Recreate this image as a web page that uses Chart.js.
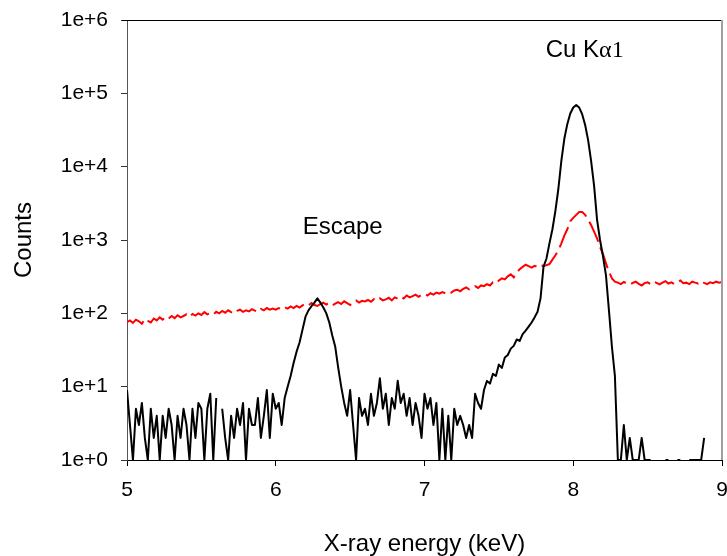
<!DOCTYPE html>
<html><head><meta charset="utf-8">
<script src="https://cdn.jsdelivr.net/npm/chart.js@4.4.1/dist/chart.umd.min.js"></script>
<style>html,body{margin:0;padding:0;background:#fff;} canvas{display:block;}</style>
</head><body>
<canvas id="c" width="727" height="556"></canvas>
<script>
// X-ray energy grid (keV)
const energy = [
5.00,5.02,5.04,5.06,5.08,5.10,5.12,5.14,5.16,5.18,
5.20,5.22,5.24,5.26,5.28,5.30,5.32,5.34,5.36,5.38,
5.40,5.42,5.44,5.46,5.48,5.50,5.52,5.54,5.56,5.58,
5.60,5.62,5.64,5.66,5.68,5.70,5.72,5.74,5.76,5.78,
5.80,5.82,5.84,5.86,5.88,5.90,5.92,5.94,5.96,5.98,
6.00,6.02,6.04,6.06,6.08,6.10,6.12,6.14,6.16,6.18,
6.20,6.22,6.24,6.26,6.28,6.30,6.32,6.34,6.36,6.38,
6.40,6.42,6.44,6.46,6.48,6.50,6.52,6.54,6.56,6.58,
6.60,6.62,6.64,6.66,6.68,6.70,6.72,6.74,6.76,6.78,
6.80,6.82,6.84,6.86,6.88,6.90,6.92,6.94,6.96,6.98,
7.00,7.02,7.04,7.06,7.08,7.10,7.12,7.14,7.16,7.18,
7.20,7.22,7.24,7.26,7.28,7.30,7.32,7.34,7.36,7.38,
7.40,7.42,7.44,7.46,7.48,7.50,7.52,7.54,7.56,7.58,
7.60,7.62,7.64,7.66,7.68,7.70,7.72,7.74,7.76,7.78,
7.80,7.82,7.84,7.86,7.88,7.90,7.92,7.94,7.96,7.98,
8.00,8.02,8.04,8.06,8.08,8.10,8.12,8.14,8.16,8.18,
8.20,8.22,8.24,8.26,8.28,8.30,8.32,8.34,8.36,8.38,
8.40,8.42,8.44,8.46,8.48,8.50,8.52,8.54,8.56,8.58,
8.60,8.62,8.64,8.66,8.68,8.70,8.72,8.74,8.76,8.78,
8.80,8.82,8.84,8.86,8.88,8.90,8.92,8.94,8.96,8.98,
9.00];

// Measured spectrum (black); null = zero counts
const spectrumCounts = [
9,3,1,5,3,6,2,1,5,2,
4,1,4,2,5,3,1,4,2,5,
3,1,5,2,6,5,1,5,8,1,
7,null,5,2,1,4,2,5,3,6,
1,5,3,3,7,2,4,9,2,8,
5,6,3,7,10,14,21,30,40,60,
90,110,125,140,160,140,120,100,75,50,
35,18,10,6,4,9,3,1,7,4,
5,3,8,4,6,13,5,8,3,7,
5,12,6,8,4,7,3,6,4,2,
8,5,7,3,6,1,5,1,4,1,
5,3,4,3,2,3,2,8,6,5,
9,12,11,15,14,20,18,25,27,33,
36,44,42,52,58,66,75,88,105,160,
430,560,900,1400,2500,5000,12000,24000,38000,53000,
64000,69000,64000,52000,37000,23000,12000,5500,1900,1000,
600,330,110,35,14,1,1,3,1,2,
1,1,1,2,1,1,1,null,null,null,
null,1,1,null,null,1,1,null,null,1,
1,1,1,1,2,null,null,null,null,null,
null];

// Background / second spectrum (red dashed)
const backgroundCounts = [
76,80,74,82,78,72,84,79,75,85,
80,88,82,90,85,92,86,94,88,92,
97,90,98,93,100,95,104,97,101,96,
105,100,108,102,110,104,99,108,112,105,
110,106,114,109,104,115,110,118,112,116,
112,118,113,121,116,124,118,126,120,128,
135,128,138,130,126,134,140,132,138,128,
136,142,134,146,138,130,144,150,140,148,
145,152,144,156,148,160,150,155,163,150,
165,158,170,160,175,165,172,180,168,178,
185,175,188,180,192,185,195,188,200,192,
205,210,200,215,225,212,228,235,222,240,
235,250,240,265,255,280,300,290,320,340,
310,360,400,430,460,440,420,445,430,460,
440,455,470,540,620,720,900,1150,1400,1800,
2000,2200,2400,2400,2200,1900,1600,1300,1050,800,
640,480,370,300,270,262,250,268,255,245,
260,270,252,240,258,265,250,272,260,248,
262,275,255,265,250,268,280,258,262,250,
270,262,255,275,260,250,265,258,270,262,
268];

const xTickValues = [5,6,7,8,9];
const xTickLabels = ['5','6','7','8','9'];
const yTickValues = [1,10,100,1000,10000,100000,1000000];
const yTickLabels = ['1e+0','1e+1','1e+2','1e+3','1e+4','1e+5','1e+6'];
const xTitle = 'X-ray energy (keV)';
const yTitle = 'Counts';

const SANS = '"Liberation Sans", Arial, Helvetica, sans-serif';
const SERIF = '"Liberation Serif", "Times New Roman", serif';

const toXY = (vals) => energy.map((e, i) => ({x: e, y: vals[i]}));

const framePlugin = {
  id: 'frame',
  afterDatasetsDraw(chart) {
    const {ctx, chartArea: a} = chart;
    ctx.save();
    ctx.lineWidth = 1;
    ctx.strokeStyle = '#000';
    ctx.beginPath();
    ctx.moveTo(a.left - 5, Math.round(a.top) + 0.5);
    ctx.lineTo(a.right, Math.round(a.top) + 0.5);
    ctx.stroke();
    ctx.strokeStyle = '#a0a0a0';
    ctx.lineWidth = 2;
    ctx.beginPath();
    ctx.moveTo(Math.round(a.right), a.top);
    ctx.lineTo(Math.round(a.right), a.bottom);
    ctx.stroke();
    ctx.restore();
  }
};

const labelPlugin = {
  id: 'peakLabels',
  afterDraw(chart, args, opts) {
    const {ctx, scales: {x, y}} = chart;
    ctx.save();
    ctx.fillStyle = '#000';
    ctx.textBaseline = 'alphabetic';
    for (const item of opts.items) {
      const px = x.getPixelForValue(item.x);
      const py = y.getPixelForValue(item.y);
      const parts = item.parts;
      let total = 0;
      const widths = parts.map(p => { ctx.font = p.font; const w = ctx.measureText(p.text).width; total += w; return w; });
      let cx = px - total / 2;
      ctx.textAlign = 'left';
      parts.forEach((p, i) => { ctx.font = p.font; ctx.fillText(p.text, cx, py); cx += widths[i]; });
    }
    ctx.restore();
  }
};

new Chart(document.getElementById('c'), {
  type: 'line',
  data: {
    datasets: [
      {
        label: 'spectrum',
        data: toXY(spectrumCounts),
        borderColor: '#000',
        borderWidth: 2,
        pointRadius: 0,
        tension: 0,
        spanGaps: false,
        borderJoinStyle: 'round'
      },
      {
        label: 'background',
        data: toXY(backgroundCounts),
        borderColor: '#ff0000',
        borderWidth: 2,
        borderDash: [22, 6],
        pointRadius: 0,
        tension: 0,
        spanGaps: false
      }
    ]
  },
  options: {
    responsive: false,
    animation: false,
    devicePixelRatio: 1,
    layout: {padding: {top: 20, right: 5, left: 0, bottom: 0}},
    plugins: {
      legend: {display: false},
      tooltip: {enabled: false},
      peakLabels: {
        items: [
          {x: 6.45, y: 1210, parts: [{text: 'Escape', font: '24px ' + SANS}]},
          {x: 8.077, y: 313000, parts: [{text: 'Cu K', font: '24px ' + SANS}, {text: '\u03b11', font: '24px ' + SERIF}]}
        ]
      }
    },
    scales: {
      x: {
        type: 'linear',
        min: 5, max: 9,
        afterBuildTicks: (s) => { s.ticks = xTickValues.map(v => ({value: v})); },
        afterFit: (s) => { s.height = 96; s.paddingLeft = 0; s.paddingRight = 0; },
        ticks: {
          callback: (v, i) => xTickLabels[i],
          font: {family: SANS, size: 21},
          color: '#000',
          padding: 12,
          maxRotation: 0
        },
        grid: {drawOnChartArea: false, drawTicks: true, tickLength: 6, color: '#000'},
        border: {display: true, color: '#000', width: 1},
        title: {display: true, text: xTitle, color: '#000', font: {family: SANS, size: 24, lineHeight: 1}, padding: {top: 0, bottom: 0}}
      },
      y: {
        type: 'logarithmic',
        min: 1, max: 1000000,
        afterBuildTicks: (s) => { s.ticks = yTickValues.map(v => ({value: v})); },
        afterFit: (s) => { s.width = 127; s.paddingTop = 0; s.paddingBottom = 0; },
        ticks: {
          callback: (v, i) => yTickLabels[i],
          font: {family: SANS, size: 21},
          color: '#000',
          padding: 13
        },
        grid: {drawOnChartArea: false, drawTicks: true, tickLength: 6, color: '#333'},
        border: {display: true, color: '#555', width: 1},
        title: {display: true, text: yTitle, color: '#000', font: {family: SANS, size: 24, lineHeight: 1}, padding: {top: 12, bottom: 0}}
      }
    }
  },
  plugins: [framePlugin, labelPlugin]
});
</script>
</body></html>
